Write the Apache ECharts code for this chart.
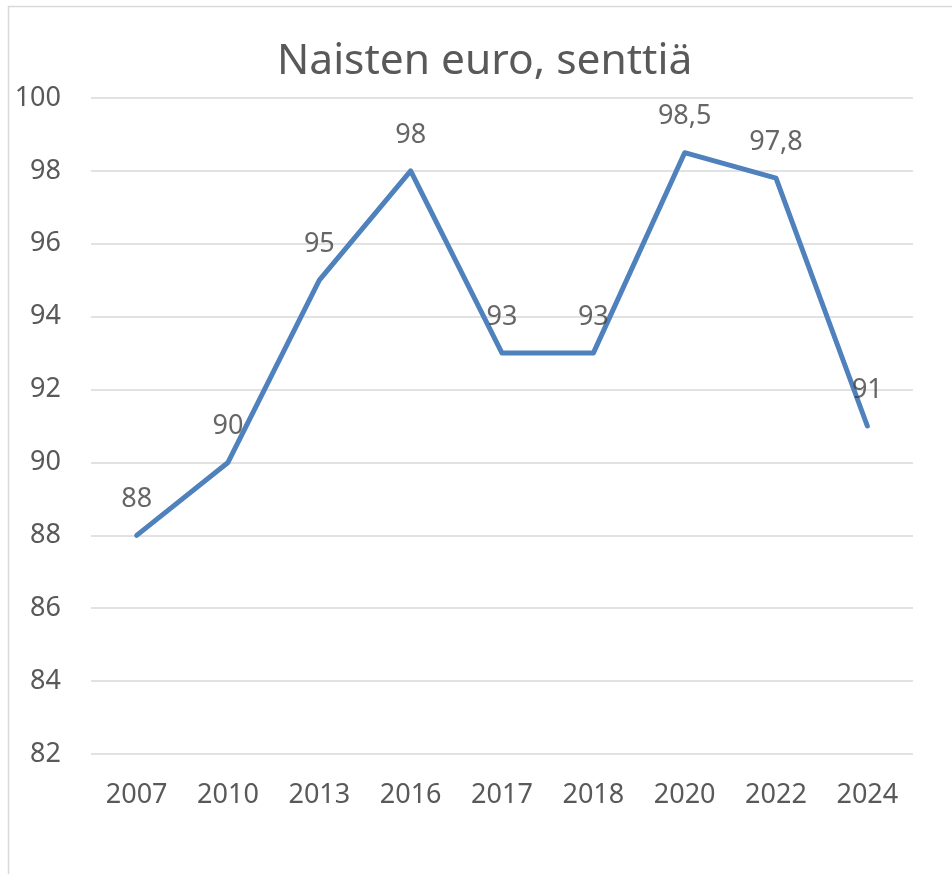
<!DOCTYPE html>
<html><head><meta charset="utf-8">
<script src="https://cdn.jsdelivr.net/npm/echarts@6/dist/echarts.min.js"></script>
<style>html,body{margin:0;padding:0;background:#fff}#c{width:952px;height:874px}</style>
</head><body><div id="c"></div>
<script>
var categories = ['2007','2010','2013','2016','2017','2018','2020','2022','2024'];
var values = [88, 90, 95, 98, 93, 93, 98.5, 97.8, 91];
var titleText = 'Naisten euro, senttiä';
var yMin = 82, yMax = 100, yStep = 2;

var chart = echarts.init(document.getElementById('c'), null, {renderer:'canvas'});
var font = '"Noto Sans", sans-serif';
chart.setOption({
  animation: false,
  backgroundColor: '#fff',
  graphic: [{type:'rect', shape:{x:8.5,y:6.5,width:1200,height:1200}, style:{fill:'none', stroke:'#d9d9d9', lineWidth:1.5}, silent:true}],
  title: {text: titleText, left: 272, top: 35, textStyle:{fontFamily:font, fontSize:42.5, fontWeight:'normal', color:'#595959'}},
  grid: {left: 91, right: 39, top: 98, bottom: 120, containLabel:false},
  xAxis: {type:'category', data: categories, boundaryGap:true,
    axisLine:{show:false}, axisTick:{show:false},
    axisLabel:{fontFamily:font, fontSize:27, color:'#595959', margin:28}},
  yAxis: {type:'value', min:yMin, max:yMax, interval:yStep,
    axisLine:{show:false}, axisTick:{show:false},
    splitLine:{lineStyle:{color:'#d9d9d9', width:1.5}},
    axisLabel:{fontFamily:font, fontSize:27, color:'#595959', margin:30}},
  series: [{type:'line', data: values, symbol:'none',
    lineStyle:{color:'#4f81bd', width:5, cap:'round', join:'round'}, z:2},
    {type:'scatter', data: values, symbol:'circle', symbolSize:1,
    itemStyle:{color:'rgba(0,0,0,0)'}, z:3,
    label:{show:true, position:'top', distance:22, fontFamily:font, fontSize:27, color:'#404040',
      formatter:function(p){return String(p.value).replace('.', ',');}}}]
});
</script></body></html>
